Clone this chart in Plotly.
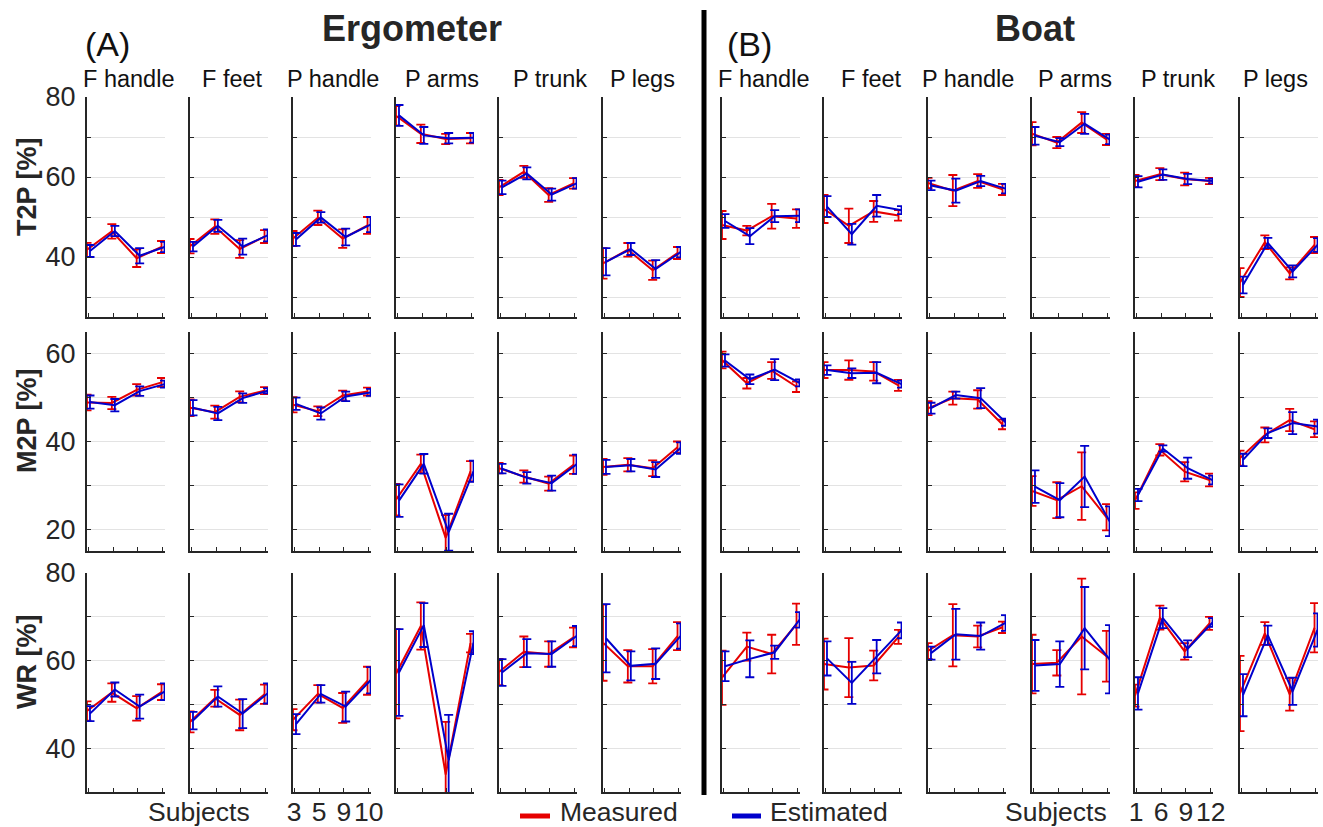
import plotly.graph_objects as go

# ---------------- data ----------------
PARAMS = ["F handle", "F feet", "P handle", "P arms", "P trunk", "P legs"]
ROW_LABELS = ["T2P [%]", "M2P [%]", "WR [%]"]
SETUPS = ["Ergometer", "Boat"]
SUBJ_ERG = ["3", "5", "9", "10"]
SUBJ_BOAT = ["1", "6", "9", "12"]
TRIALS = [1, 2, 3, 4]

# Ergometer, T2P
ERG_T2P_MEAS = [[41.8, 46.4, 39.7, 42.5], [42.7, 47.6, 42.0, 45.1], [44.6, 49.8, 44.6, 47.9],
                [75.3, 70.8, 69.5, 69.7], [57.4, 61.3, 55.5, 58.4], [38.4, 41.8, 36.7, 41.0]]
ERG_T2P_MEAS_SD = [[1.75, 1.8, 2.2, 1.5], [1.8, 1.8, 2.2, 1.6], [1.9, 1.8, 2.3, 2.1],
                   [2.4, 2.3, 1.3, 1.3], [1.9, 1.5, 1.7, 1.3], [3.8, 1.7, 2.4, 1.5]]
ERG_T2P_EST = [[41.5, 46.5, 40.3, 42.5], [42.6, 47.8, 42.6, 45.4], [44.4, 49.9, 45.0, 48.1],
               [75.4, 70.4, 69.7, 69.8], [57.4, 60.9, 55.6, 58.4], [38.8, 42.0, 37.0, 41.2]]
ERG_T2P_EST_SD = [[1.5, 1.3, 1.9, 1.3], [1.2, 1.5, 2.0, 1.5], [1.6, 1.3, 2.1, 1.9],
                  [2.6, 2.1, 1.3, 1.2], [1.7, 1.5, 1.5, 1.3], [3.4, 1.5, 2.2, 1.3]]

# Ergometer, M2P
ERG_M2P_MEAS = [[48.9, 48.8, 51.8, 53.5], [47.7, 46.7, 50.2, 51.6], [48.4, 46.9, 50.5, 51.4],
                [26.7, 34.9, 18.0, 33.2], [33.9, 32.0, 30.4, 34.7], [34.2, 34.7, 33.9, 38.7]]
ERG_M2P_MEAS_SD = [[1.8, 1.4, 1.3, 1.0], [1.9, 1.5, 1.25, 0.8], [1.75, 1.1, 1.1, 0.9],
                   [3.6, 2.1, 5.2, 2.3], [1.2, 1.4, 1.6, 2.1], [1.8, 1.5, 1.8, 1.3]]
ERG_M2P_EST = [[49.0, 48.3, 51.5, 53.1], [47.7, 46.4, 49.9, 51.6], [48.6, 46.4, 50.3, 51.2],
               [26.5, 34.9, 19.3, 33.2], [33.8, 31.7, 30.5, 34.8], [34.2, 34.6, 33.6, 38.5]]
ERG_M2P_EST_SD = [[1.5, 1.4, 1.1, 0.8], [1.75, 1.5, 1.1, 0.6], [1.4, 1.4, 1.1, 0.8],
                  [3.7, 2.25, 4.2, 2.4], [1.1, 1.3, 1.7, 2.2], [1.6, 1.4, 1.7, 1.3]]

# Ergometer, WR
ERG_WR_MEAS = [[48.5, 52.7, 49.1, 52.8], [46.0, 51.4, 47.6, 52.3], [46.5, 52.4, 49.2, 55.4],
               [57.0, 67.9, 34.0, 64.0], [57.4, 62.0, 61.5, 65.3], [64.1, 58.7, 58.7, 65.6]]
ERG_WR_MEAS_SD = [[2.2, 2.1, 2.8, 1.8], [2.4, 1.9, 3.5, 2.2], [2.4, 2.0, 3.4, 3.2],
                  [10.2, 5.4, 12.0, 2.1], [3.0, 3.5, 2.9, 2.25], [8.7, 3.7, 3.9, 3.2]]
ERG_WR_EST = [[47.9, 53.4, 49.5, 52.9], [46.3, 51.8, 47.9, 52.5], [45.5, 52.4, 49.5, 55.5],
              [57.3, 68.1, 37.3, 64.1], [57.3, 61.7, 61.5, 65.6], [65.1, 58.8, 59.3, 65.6]]
ERG_WR_EST_SD = [[1.7, 1.6, 2.75, 1.9], [2.0, 2.3, 3.3, 2.3], [2.3, 2.0, 3.4, 3.0],
                 [9.9, 5.0, 10.3, 2.6], [3.05, 3.2, 2.9, 2.3], [7.8, 3.3, 3.5, 2.9]]

# Boat, T2P
BOAT_T2P_MEAS = [[48.0, 46.6, 50.2, 49.6], [52.0, 47.8, 51.4, 50.4], [58.5, 56.6, 59.0, 56.9],
                 [70.8, 68.6, 73.6, 69.4], [59.0, 60.7, 59.5, 59.0], [33.6, 43.7, 35.9, 43.0]]
BOAT_T2P_MEAS_SD = [[3.5, 1.2, 3.1, 2.3], [3.5, 4.3, 2.6, 1.3], [1.3, 3.9, 1.7, 1.4],
                    [2.9, 1.4, 2.6, 1.4], [1.5, 1.5, 1.6, 0.8], [3.6, 1.7, 1.5, 2.0]]
BOAT_T2P_EST = [[49.0, 45.2, 50.2, 50.3], [52.6, 45.7, 52.8, 51.7], [57.9, 56.6, 59.0, 57.1],
                [70.3, 68.7, 73.3, 69.4], [58.8, 60.6, 59.5, 59.0], [33.0, 43.5, 36.4, 43.0]]
BOAT_T2P_EST_SD = [[1.7, 2.0, 1.5, 1.6], [2.6, 2.6, 2.7, 1.0], [1.2, 3.0, 1.3, 1.2],
                   [2.2, 1.0, 2.5, 1.2], [1.4, 1.3, 1.3, 0.6], [2.1, 1.3, 1.5, 1.7]]

# Boat, M2P
BOAT_M2P_MEAS = [[58.6, 53.3, 56.2, 52.5], [56.3, 56.3, 56.0, 52.8], [47.6, 49.9, 49.6, 43.9],
                 [28.7, 26.6, 29.8, 22.7], [26.5, 38.1, 33.1, 31.2], [36.2, 41.5, 44.9, 42.8]]
BOAT_M2P_MEAS_SD = [[1.9, 1.2, 1.9, 1.2], [1.8, 2.2, 2.1, 1.25], [1.6, 1.5, 2.1, 1.1],
                    [3.4, 4.1, 7.7, 3.0], [1.9, 1.3, 2.2, 1.45], [1.7, 1.7, 2.55, 1.8]]
BOAT_M2P_EST = [[58.5, 54.2, 56.4, 53.4], [56.3, 55.6, 55.7, 53.1], [47.6, 50.6, 49.9, 44.4],
                [29.7, 26.6, 32.0, 21.8], [27.8, 38.4, 33.9, 31.2], [35.8, 41.9, 44.2, 43.4]]
BOAT_M2P_EST_SD = [[1.4, 1.1, 2.4, 0.8], [1.1, 1.1, 2.4, 0.8], [1.25, 0.8, 2.3, 0.8],
                   [3.7, 3.9, 7.0, 3.4], [1.4, 0.7, 2.4, 1.0], [1.4, 1.1, 2.5, 1.6]]

# Boat, WR
BOAT_WR_MEAS = [[56.1, 63.2, 61.5, 68.3], [59.2, 58.4, 58.9, 65.4], [62.2, 65.8, 65.5, 67.6],
                [59.2, 59.5, 65.5, 61.0], [52.0, 69.8, 62.1, 68.5], [52.5, 66.2, 52.3, 67.5]]
BOAT_WR_MEAS_SD = [[6.2, 3.2, 4.4, 4.7], [5.8, 6.75, 3.4, 1.6], [1.8, 7.1, 2.5, 1.3],
                   [6.7, 2.9, 13.2, 5.8], [2.5, 2.75, 1.9, 1.5], [8.6, 2.6, 3.7, 5.6]]
BOAT_WR_EST = [[58.7, 60.4, 61.9, 69.3], [60.5, 54.9, 60.9, 66.9], [61.7, 66.0, 65.6, 68.6],
               [58.9, 59.2, 67.4, 60.3], [52.5, 69.7, 62.7, 68.7], [52.1, 65.8, 53.0, 67.0]]
BOAT_WR_EST_SD = [[3.4, 4.2, 1.5, 1.75], [3.9, 4.8, 3.8, 1.8], [1.5, 5.8, 3.1, 1.8],
                  [5.8, 5.2, 9.4, 7.8], [3.7, 2.3, 1.9, 1.0], [4.8, 2.2, 3.1, 3.8]]

# Y axis ranges / ticks per row
Y_RANGES = [[25, 80], [15, 65], [30, 80]]
Y_GRID = [[30, 40, 50, 60, 70, 80], [20, 30, 40, 50, 60], [40, 50, 60, 70, 80]]
Y_LABELED = [[40, 60, 80], [20, 40, 60], [40, 60, 80]]

DATA = {
    (0, 0): (ERG_T2P_MEAS, ERG_T2P_MEAS_SD, ERG_T2P_EST, ERG_T2P_EST_SD),
    (0, 1): (ERG_M2P_MEAS, ERG_M2P_MEAS_SD, ERG_M2P_EST, ERG_M2P_EST_SD),
    (0, 2): (ERG_WR_MEAS, ERG_WR_MEAS_SD, ERG_WR_EST, ERG_WR_EST_SD),
    (1, 0): (BOAT_T2P_MEAS, BOAT_T2P_MEAS_SD, BOAT_T2P_EST, BOAT_T2P_EST_SD),
    (1, 1): (BOAT_M2P_MEAS, BOAT_M2P_MEAS_SD, BOAT_M2P_EST, BOAT_M2P_EST_SD),
    (1, 2): (BOAT_WR_MEAS, BOAT_WR_MEAS_SD, BOAT_WR_EST, BOAT_WR_EST_SD),
}

# ---------------- layout constants ----------------
W, H = 1323, 827
RED = "#e60000"
BLUE = "#0000cc"
AX = "#262626"
FONT = "Liberation Sans"
COL_LEFT = [87, 190, 293, 396, 499, 603, 722, 824, 928, 1032, 1135, 1240]
PANEL_W = 78
ROW_TOP = [97, 332, 573]
ROW_BOT = [317, 551, 792]
TITLE_X = [128.5, 232.5, 332.5, 442, 550, 642.5, 763.6, 871, 968, 1075, 1178, 1275.5]
X_RANGE = [0.95, 4.09]
DX_MEAS, DX_EST = -0.05, 0.07


def px(x):
    return x / W


def py(y):
    return 1 - y / H


fig = go.Figure()
layout = {}

for s in range(2):
    for r in range(3):
        meas, meas_sd, est, est_sd = DATA[(s, r)]
        for c in range(6):
            col = s * 6 + c
            k = r * 12 + col + 1
            xa = "x" if k == 1 else f"x{k}"
            ya = "y" if k == 1 else f"y{k}"
            for vals, sds, color, dx in ((meas[c], meas_sd[c], RED, DX_MEAS),
                                         (est[c], est_sd[c], BLUE, DX_EST)):
                fig.add_trace(go.Scatter(
                    x=[t + dx for t in TRIALS], y=vals, mode="lines",
                    line=dict(color=color, width=2),
                    error_y=dict(type="data", array=sds, visible=True, color=color,
                                 thickness=1.8, width=4.5),
                    xaxis=xa, yaxis=ya, showlegend=False, hoverinfo="skip"))

            show_xlab = (s == 0 and r == 2 and c == 2) or (s == 1 and r == 2 and c == 4)
            subj = SUBJ_ERG if s == 0 else SUBJ_BOAT
            xkey = "xaxis" if k == 1 else f"xaxis{k}"
            ykey = "yaxis" if k == 1 else f"yaxis{k}"
            layout[xkey] = dict(
                domain=[px(COL_LEFT[col]), px(COL_LEFT[col] + PANEL_W)],
                range=X_RANGE, anchor=ya, showgrid=False, zeroline=False,
                showline=True, linecolor=AX, linewidth=2.2,
                ticks="inside", ticklen=4, tickwidth=1, tickcolor=AX,
                tickvals=TRIALS, ticktext=subj, showticklabels=show_xlab,
                ticklabelstandoff=-5, tickangle=0, automargin=False,
                tickfont=dict(family=FONT, size=26.5, color=AX), fixedrange=True)
            layout[ykey] = dict(
                domain=[py(ROW_BOT[r]), py(ROW_TOP[r])],
                range=Y_RANGES[r], anchor=xa, showgrid=True, gridcolor="#e3e3e3",
                gridwidth=1, zeroline=False, showline=True, linecolor=AX, linewidth=2.2,
                ticks="inside", ticklen=4, tickwidth=1, tickcolor=AX,
                tickvals=Y_GRID[r],
                ticktext=[str(v) if v in Y_LABELED[r] else "" for v in Y_GRID[r]],
                showticklabels=(col == 0), ticklabelstandoff=4, automargin=False,
                tickfont=dict(family=FONT, size=27, color=AX), fixedrange=True)

annotations = []
# column titles
for col in range(12):
    annotations.append(dict(text=PARAMS[col % 6], x=px(TITLE_X[col]), y=py(79),
                            xref="paper", yref="paper", xanchor="center", yanchor="middle",
                            showarrow=False, font=dict(family=FONT, size=23.5, color="#111111")))
# row labels
ROW_LABEL_Y = [186, 420, 662]
for r in range(3):
    annotations.append(dict(text=f"<b>{ROW_LABELS[r]}</b>", x=px(27), y=py(ROW_LABEL_Y[r]),
                            xref="paper", yref="paper", xanchor="center", yanchor="middle",
                            textangle=-90, showarrow=False,
                            font=dict(family=FONT, size=27, color=AX)))
# headers
annotations += [
    dict(text="(A)", x=px(107.5), y=py(44), xref="paper", yref="paper",
         xanchor="center", yanchor="middle", showarrow=False,
         font=dict(family=FONT, size=34, color="#111111")),
    dict(text="(B)", x=px(749), y=py(44), xref="paper", yref="paper",
         xanchor="center", yanchor="middle", showarrow=False,
         font=dict(family=FONT, size=34, color="#111111")),
    dict(text="<b>" + SETUPS[0] + "</b>", x=px(411.5), y=py(28.5), xref="paper", yref="paper",
         xanchor="center", yanchor="middle", showarrow=False,
         font=dict(family=FONT, size=36, color=AX)),
    dict(text="<b>" + SETUPS[1] + "</b>", x=px(1035), y=py(28.5), xref="paper", yref="paper",
         xanchor="center", yanchor="middle", showarrow=False,
         font=dict(family=FONT, size=36, color=AX)),
    dict(text="Subjects", x=px(199), y=py(812), xref="paper", yref="paper",
         xanchor="center", yanchor="middle", showarrow=False,
         font=dict(family=FONT, size=26.5, color=AX)),
    dict(text="Subjects", x=px(1056), y=py(812), xref="paper", yref="paper",
         xanchor="center", yanchor="middle", showarrow=False,
         font=dict(family=FONT, size=26.5, color=AX)),
    dict(text="Measured", x=px(558), y=py(812), xref="paper", yref="paper",
         xanchor="left", yanchor="middle", showarrow=False,
         font=dict(family=FONT, size=26.5, color=AX)),
    dict(text="Estimated", x=px(768), y=py(812), xref="paper", yref="paper",
         xanchor="left", yanchor="middle", showarrow=False,
         font=dict(family=FONT, size=26.5, color=AX)),
]

shapes = [
    dict(type="line", xref="paper", yref="paper", x0=px(704), x1=px(704), y0=py(10), y1=py(795),
         line=dict(color="black", width=5)),
    dict(type="line", xref="paper", yref="paper", x0=px(520), x1=px(550), y0=py(816), y1=py(816),
         line=dict(color=RED, width=5)),
    dict(type="line", xref="paper", yref="paper", x0=px(732), x1=px(761), y0=py(816), y1=py(816),
         line=dict(color=BLUE, width=5)),
]

fig.update_layout(width=W, height=H, margin=dict(l=0, r=0, t=0, b=0, autoexpand=False),
                  paper_bgcolor="white", plot_bgcolor="white",
                  annotations=annotations, shapes=shapes,
                  font=dict(family=FONT, color=AX), **layout)

# page body has a default 8px margin; remove it so the figure sits at the window origin
fig.write_html("out.html", config={"displayModeBar": False},
               post_script="document.body.style.margin='0px';"
                           "document.body.style.overflow='hidden';")
